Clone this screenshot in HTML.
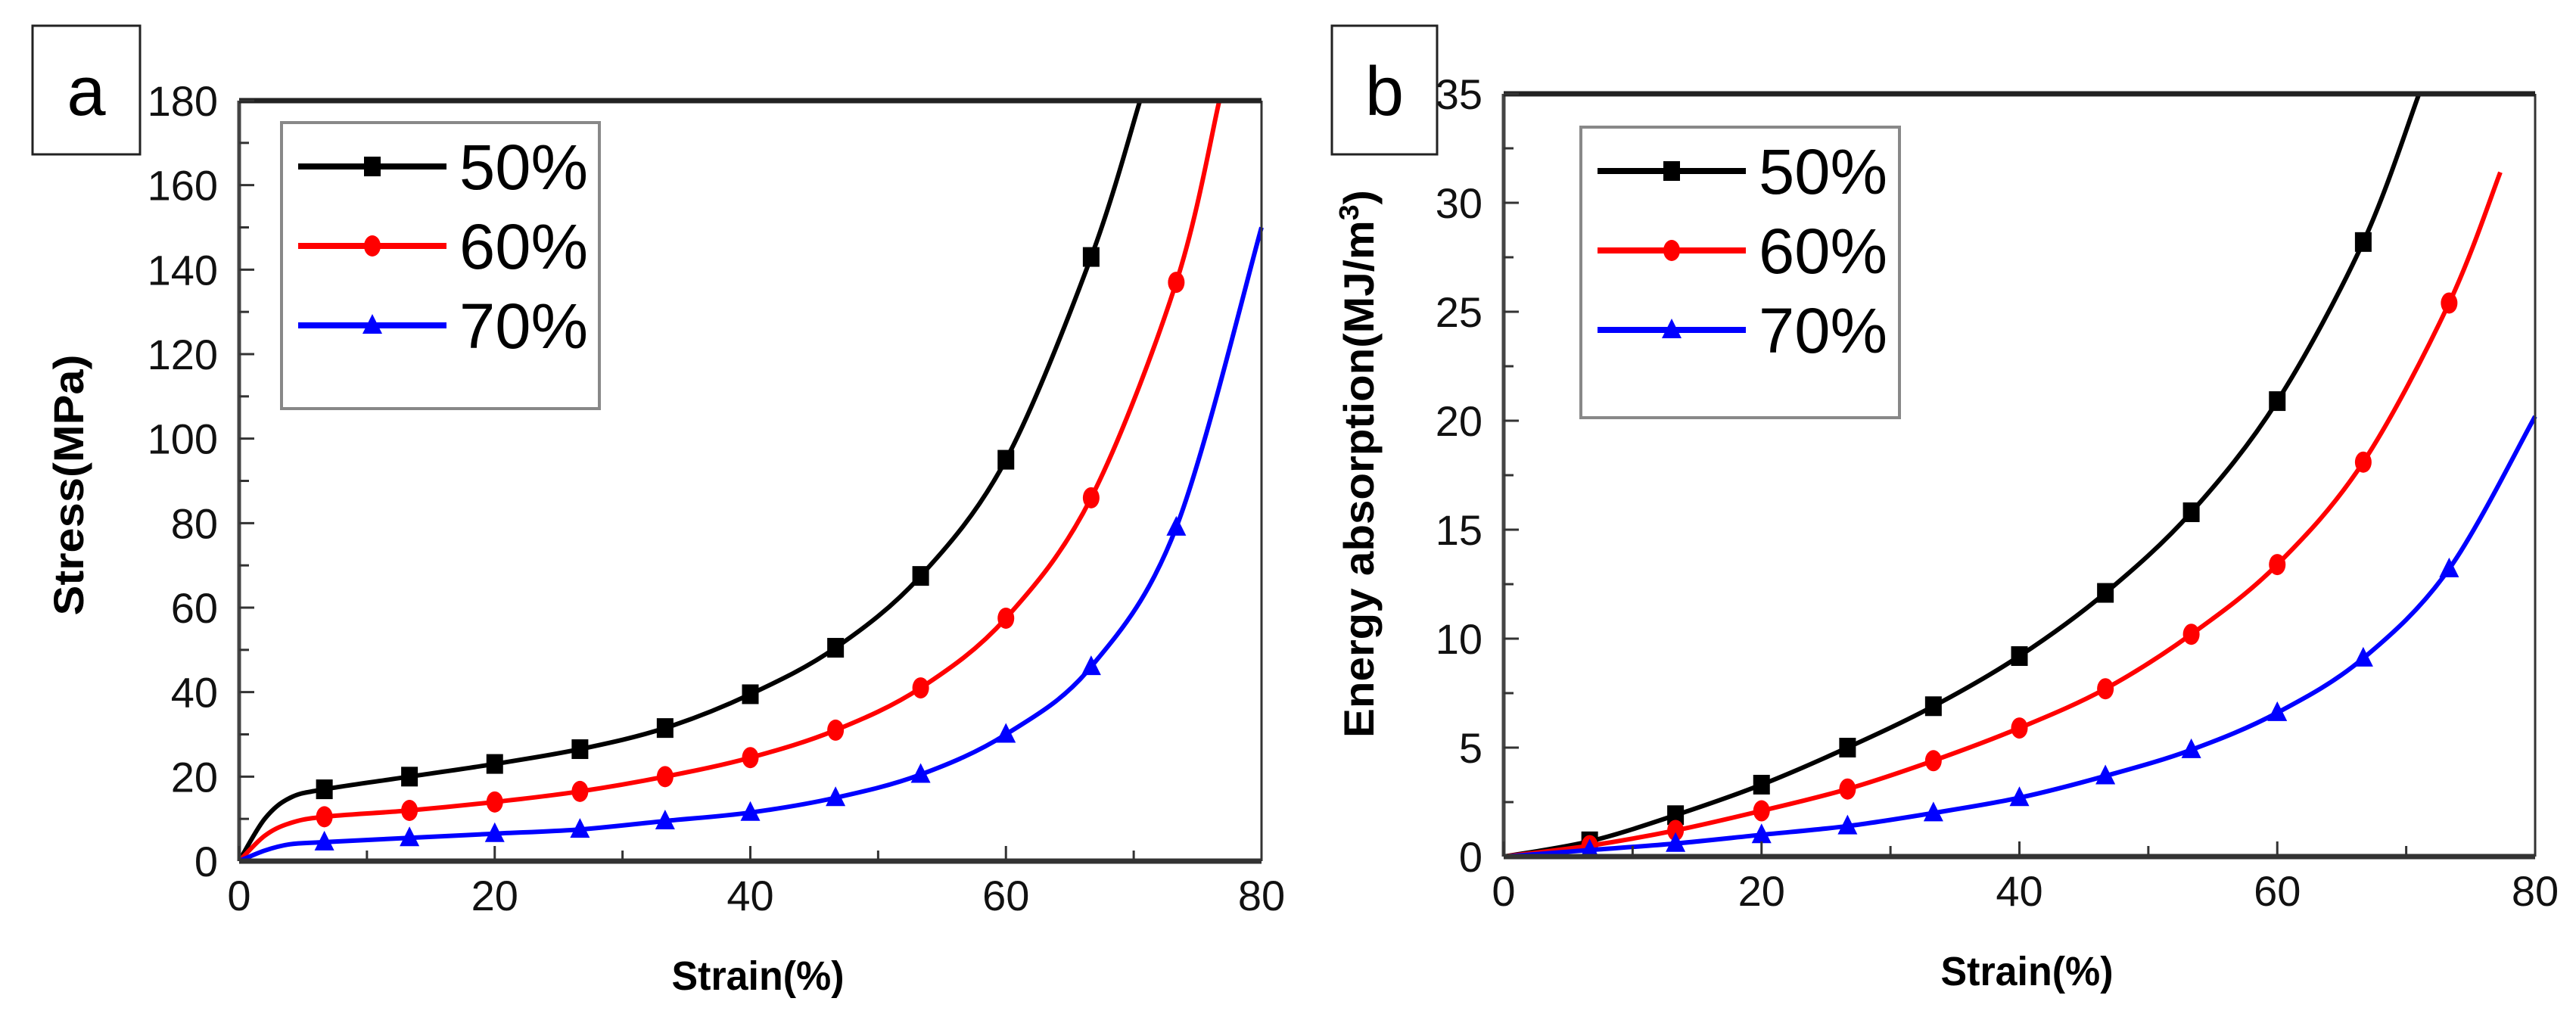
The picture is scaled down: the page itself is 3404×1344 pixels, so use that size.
<!DOCTYPE html>
<html><head><meta charset="utf-8"><style>
html,body{margin:0;padding:0;background:#fff;}
svg{display:block;font-family:"Liberation Sans",sans-serif;}
</style></head><body>
<svg id="fig" width="3404" height="1344" viewBox="0 0 3404 1344" xmlns="http://www.w3.org/2000/svg"></svg>
<script>
// Chart a: stress-strain
const strainA = [0, 2, 4, 6.67, 13.33, 20, 26.67, 33.33, 40, 46.67, 53.33, 60, 66.67, 70.5];
const stress50 = [0, 10, 15, 17, 20, 23, 26.5, 31.5, 39.5, 50.5, 67.5, 95, 143, 180];
const strainA60 = [0, 2, 4, 6.67, 13.33, 20, 26.67, 33.33, 40, 46.67, 53.33, 60, 66.67, 73.33, 76.7];
const stress60 = [0, 6, 9, 10.5, 12, 14, 16.5, 20, 24.5, 31, 41, 57.5, 86, 137, 180];
const strainA70 = [0, 2, 4, 6.67, 13.33, 20, 26.67, 33.33, 40, 46.67, 53.33, 60, 66.67, 73.33, 80];
const stress70 = [0, 2.5, 4, 4.5, 5.5, 6.5, 7.5, 9.5, 11.5, 15, 20.5, 30, 46, 79, 150];
// Chart b: energy absorption
const strainB50 = [0, 6.67, 13.33, 20, 26.67, 33.33, 40, 46.67, 53.33, 60, 66.67, 71];
const energy50 = [0, 0.7, 1.9, 3.3, 5, 6.9, 9.2, 12.1, 15.8, 20.9, 28.2, 35];
const strainB = [0, 6.67, 13.33, 20, 26.67, 33.33, 40, 46.67, 53.33, 60, 66.67, 73.33, 77.3];
const energy60 = [0, 0.5, 1.2, 2.1, 3.1, 4.4, 5.9, 7.7, 10.2, 13.4, 18.1, 25.4, 31.4];
const strainB70 = [0, 6.67, 13.33, 20, 26.67, 33.33, 40, 46.67, 53.33, 60, 66.67, 73.33, 80];
const energy70 = [0, 0.3, 0.6, 1, 1.4, 2, 2.7, 3.7, 4.9, 6.6, 9.1, 13.2, 20.2];
const xTicks = [0, 20, 40, 60, 80];
const yTicksA = [0, 20, 40, 60, 80, 100, 120, 140, 160, 180];
const yTicksB = [0, 5, 10, 15, 20, 25, 30, 35];
const seriesNames = ["50%", "60%", "70%"];

const NS = "http://www.w3.org/2000/svg";
const svg = document.getElementById('fig');
function mk(tag, attrs, parent, text) {
  const e = document.createElementNS(NS, tag);
  for (const k in attrs) e.setAttribute(k, attrs[k]);
  if (text !== undefined) e.textContent = text;
  (parent || svg).appendChild(e);
  return e;
}
function curve(pts) {
  let d = "M" + pts[0][0] + "," + pts[0][1];
  for (let i = 0; i < pts.length - 1; i++) {
    const p0 = pts[Math.max(0, i - 1)], p1 = pts[i], p2 = pts[i + 1], p3 = pts[Math.min(pts.length - 1, i + 2)];
    const c1x = p1[0] + (p2[0] - p0[0]) / 6, c1y = p1[1] + (p2[1] - p0[1]) / 6;
    const c2x = p2[0] - (p3[0] - p1[0]) / 6, c2y = p2[1] - (p3[1] - p1[1]) / 6;
    d += " C" + c1x + "," + c1y + " " + c2x + "," + c2y + " " + p2[0] + "," + p2[1];
  }
  return d;
}
function marker(g, type, x, y, color) {
  let m;
  if (type === 0) m = mk('rect', {x: x - 11, y: y - 13, width: 22, height: 26, fill: color}, g);
  else if (type === 1) m = mk('ellipse', {cx: x, cy: y, rx: 11, ry: 14, fill: color}, g);
  else m = mk('polygon', {points: (x) + "," + (y - 15) + " " + (x + 13) + "," + (y + 11) + " " + (x - 13) + "," + (y + 11), fill: color}, g);
  
  
}
const colors = ["#000000", "#ff0000", "#0000ff"];

function chart(cfg) {
  const g = mk('g', {});
  
  
  const L = cfg.L, R = cfg.R, T = cfg.T, B = cfg.B;
  const sx = v => L + (v - 0) / 80 * (R - L);
  const sy = v => B - v / cfg.ymax * (B - T);
  // series
  cfg.series.forEach((s, si) => {
    const pts = s.x.map((xv, i) => [sx(xv), sy(s.y[i])]);
    const p = mk('path', {d: curve(pts), fill: 'none', stroke: colors[si], 'stroke-width': 6}, g);
    
    
    s.x.forEach((xv, i) => {
      if (i === 0 || i === s.x.length - 1) return;
      if (cfg.skipEarly && xv < 6) return;
      marker(g, si, sx(xv), sy(s.y[i]), colors[si]);
    });
  });
  // axes frame
  mk('line', {x1: L, y1: T, x2: L, y2: B, stroke: '#444', 'stroke-width': 5}, g);
  mk('line', {x1: R, y1: T, x2: R, y2: B, stroke: '#333', 'stroke-width': 3}, g);
  mk('line', {x1: L, y1: T, x2: R, y2: T, stroke: '#222', 'stroke-width': 7}, g);
  mk('line', {x1: L, y1: B, x2: R, y2: B, stroke: '#333', 'stroke-width': 7}, g);
  // x ticks
  xTicks.forEach((t, i) => {
    mk('line', {x1: sx(t), y1: B, x2: sx(t), y2: B - 20, stroke: '#333', 'stroke-width': 3}, g);
    if (i < xTicks.length - 1) {
      const m = t + 10;
      mk('line', {x1: sx(m), y1: B, x2: sx(m), y2: B - 14, stroke: '#333', 'stroke-width': 3}, g);
    }
    const tl = mk('text', {x: sx(t), y: B + 65, 'font-size': 56, 'text-anchor': 'middle', fill: '#111'}, g, String(t));
    
    
  });
  cfg.yTicks.forEach((t, i) => {
    mk('line', {x1: L, y1: sy(t), x2: L + 20, y2: sy(t), stroke: '#333', 'stroke-width': 3}, g);
    if (i < cfg.yTicks.length - 1) {
      const m = t + (cfg.yTicks[1] - cfg.yTicks[0]) / 2;
      mk('line', {x1: L, y1: sy(m), x2: L + 13, y2: sy(m), stroke: '#333', 'stroke-width': 3}, g);
    }
    const tl = mk('text', {x: L - 28, y: sy(t) + 20, 'font-size': 56, 'text-anchor': 'end', fill: '#111'}, g, String(t));
    
    
  });
  const xt = mk('text', {x: (L + R) / 2 + 10, y: B + 170, 'font-size': 54, 'font-weight': 'bold', 'text-anchor': 'middle', textLength: 228, lengthAdjust: 'spacingAndGlyphs'}, g, 'Strain(%)');
  
  
  const yt = mk('text', {x: 0, y: 0, 'font-size': 56, 'font-weight': 'bold', 'text-anchor': 'middle', textLength: cfg.ytLen, lengthAdjust: 'spacingAndGlyphs', transform: 'translate(' + cfg.ytX + ',' + cfg.ytY + ') rotate(-90)'}, g);
  
  
  if (cfg.sup) {
    yt.appendChild(document.createTextNode(cfg.ytitle));
    const ts = mk('tspan', {'font-size': 36, dy: -20}, yt, '3');
    mk('tspan', {dy: 20}, yt, ')');
  } else yt.textContent = cfg.ytitle;
  // legend
  const lg = mk('g', {}, g);
  
  
  mk('rect', {x: cfg.lx, y: cfg.ly, width: cfg.lw, height: cfg.lh, fill: '#fff', stroke: '#888', 'stroke-width': 4}, lg);
  seriesNames.forEach((n, i) => {
    const e = mk('g', {}, lg);
    
    
    const yy = cfg.ly + 58 + i * 105;
    mk('line', {x1: cfg.lx + 22, y1: yy, x2: cfg.lx + 218, y2: yy, stroke: colors[i], 'stroke-width': 8}, e);
    marker(e, i, cfg.lx + 120, yy, colors[i]);
    mk('text', {x: cfg.lx + 235, y: yy + 30, 'font-size': 84, textLength: 170, lengthAdjust: 'spacingAndGlyphs'}, e, n);
  });
  // panel label
  const pl = mk('g', {}, g);
  
  
  mk('rect', {x: cfg.bx, y: 34, width: cfg.bw, height: 170, fill: '#fff', stroke: '#222', 'stroke-width': 3}, pl);
  mk('text', {x: cfg.bx + cfg.bw / 2, y: 152, 'font-size': 92, 'text-anchor': 'middle'}, pl, cfg.label);
}

chart({name: 'stress-strain-chart', L: 316, R: 1667, T: 133, B: 1138, ymax: 180, yTicks: yTicksA,
  series: [{x: strainA, y: stress50}, {x: strainA60, y: stress60}, {x: strainA70, y: stress70}],
  skipEarly: true, ytitle: 'Stress(MPa)', ytX: 110, ytY: 641, ytLen: 345,
  lx: 372, ly: 162, lw: 420, lh: 378, bx: 43, bw: 142, label: 'a'});
chart({name: 'energy-absorption-chart', L: 1987, R: 3350, T: 124, B: 1132, ymax: 35, yTicks: yTicksB,
  series: [{x: strainB50, y: energy50}, {x: strainB, y: energy60}, {x: strainB70, y: energy70}],
  skipEarly: false, ytitle: 'Energy absorption(MJ/m', sup: true, ytX: 1815, ytY: 613, ytLen: 724,
  lx: 2089, ly: 168, lw: 421, lh: 384, bx: 1760, bw: 139, label: 'b'});
</script>
</body></html>
